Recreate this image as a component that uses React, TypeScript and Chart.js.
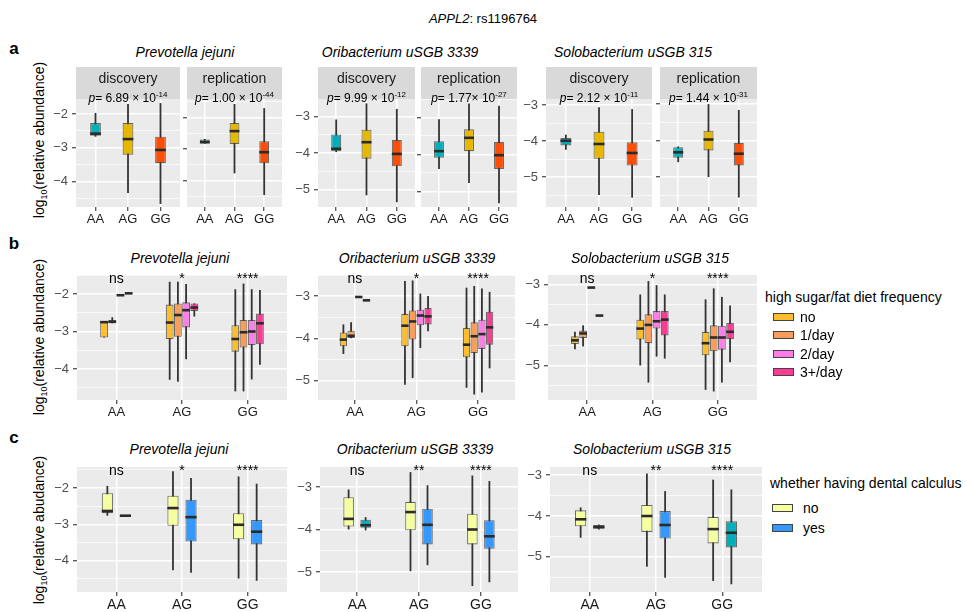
import React, { useEffect, useRef } from "react";
import { Chart, registerables } from "chart.js";
Chart.register(...registerables);

const FONT = '"Liberation Sans", Arial, Helvetica, sans-serif';

// ---------- data ----------
const genotypes = ["AA", "AG", "GG"];
// five-number summaries: [min, q1, median, q3, max] per genotype
const aPrevDisc = [[-2.67, -2.64, -2.58, -2.27, -1.97], [-4.33, -3.2, -2.74, -2.27, -1.71], [-4.65, -3.45, -3.06, -2.67, -1.68]];
const aPrevRepl = [[-2.83, -2.82, -2.78, -2.7, -2.68], [-3.77, -2.84, -2.43, -2.17, -1.57], [-4.46, -3.45, -3.1, -2.75, -1.7]];
const aOribDisc = [[-3.97, -3.95, -3.88, -3.49, -3.08], [-5.15, -4.15, -3.7, -3.36, -2.64], [-5.34, -4.36, -4.02, -3.64, -2.79]];
const aOribRepl = [[-4.39, -4.09, -3.91, -3.64, -3.05], [-4.77, -3.91, -3.55, -3.32, -2.62], [-5.32, -4.39, -4.02, -3.66, -2.68]];
const aSoloDisc = [[-4.24, -4.12, -3.99, -3.91, -3.82], [-5.5, -4.49, -4.08, -3.74, -3.06], [-5.57, -4.68, -4.33, -4.03, -3.11]];
const aSoloRepl = [[-4.59, -4.47, -4.32, -4.18, -4.16], [-5.0, -4.27, -3.97, -3.73, -3.0], [-5.56, -4.68, -4.36, -4.06, -3.16]];

const dietLevels = ["no", "1/day", "2/day", "3+/day"];
const bPrevNo = [[-3.16, -3.16, -2.75, -2.72, -2.72], [-4.29, -3.2, -2.76, -2.28, -1.67], [-4.6, -3.54, -3.2, -2.83, -1.87]];
const bPrev1 = [[-2.78, -2.77, -2.74, -2.69, -2.62], [-4.34, -3.14, -2.56, -2.25, -1.67], [-4.6, -3.43, -3.02, -2.69, -1.72]];
const bPrev2 = [[-2.03, -2.03, -2.03, -2.03, -2.03], [-3.74, -2.89, -2.43, -2.22, -1.73], [-4.28, -3.36, -3.0, -2.69, -1.87]];
const bPrev3 = [[-1.98, -1.98, -1.98, -1.98, -1.98], [-2.6, -2.45, -2.36, -2.25, -2.25], [-3.89, -3.34, -2.78, -2.52, -1.89]];
const bOribNo = [[-4.37, -4.19, -4.03, -3.86, -3.67], [-5.1, -4.19, -3.7, -3.42, -2.64], [-5.17, -4.45, -4.15, -3.75, -2.8]];
const bOrib1 = [[-4.0, -3.99, -3.94, -3.82, -3.62], [-4.94, -4.03, -3.6, -3.34, -2.63], [-5.33, -4.35, -3.95, -3.62, -2.76]];
const bOrib2 = [[-3.02, -3.02, -3.02, -3.02, -3.02], [-4.23, -3.69, -3.46, -3.32, -2.94], [-5.28, -4.25, -3.9, -3.56, -2.82]];
const bOrib3 = [[-3.1, -3.1, -3.1, -3.1, -3.1], [-3.83, -3.67, -3.48, -3.28, -3.0], [-4.71, -4.15, -3.74, -3.37, -2.9]];
const bSoloNo = [[-4.6, -4.47, -4.38, -4.28, -4.17], [-5.0, -4.36, -4.09, -3.87, -3.25], [-5.6, -4.75, -4.45, -4.17, -3.37]];
const bSolo1 = [[-4.53, -4.32, -4.21, -4.14, -4.01], [-5.42, -4.45, -4.0, -3.74, -2.92], [-5.64, -4.65, -4.31, -4.01, -3.1]];
const bSolo2 = [[-3.08, -3.08, -3.08, -3.08, -3.08], [-4.78, -4.09, -3.91, -3.66, -3.02], [-5.42, -4.61, -4.31, -4.02, -3.31]];
const bSolo3 = [[-3.77, -3.77, -3.77, -3.77, -3.77], [-4.83, -4.26, -3.87, -3.66, -3.25], [-4.92, -4.35, -4.17, -3.95, -3.52]];

const calcLevels = ["no", "yes"];
const cPrevNo = [[-2.76, -2.69, -2.63, -2.14, -1.94], [-4.26, -3.04, -2.55, -2.21, -1.54], [-4.49, -3.41, -3.01, -2.69, -1.68]];
const cPrevYes = [[-2.76, -2.76, -2.76, -2.76, -2.76], [-4.33, -3.47, -2.8, -2.32, -1.72], [-4.55, -3.55, -3.2, -2.88, -1.88]];
const cOribNo = [[-4.0, -3.93, -3.75, -3.24, -3.06], [-4.98, -4.02, -3.59, -3.35, -2.65], [-5.33, -4.35, -4.0, -3.63, -2.73]];
const cOribYes = [[-4.02, -3.96, -3.9, -3.77, -3.71], [-4.84, -4.35, -3.89, -3.51, -2.96], [-5.24, -4.45, -4.16, -3.78, -2.86]];
const cSoloNo = [[-4.53, -4.25, -4.08, -3.86, -3.79], [-5.24, -4.39, -4.0, -3.73, -2.96], [-5.59, -4.67, -4.32, -4.02, -3.11]];
const cSoloYes = [[-4.33, -4.31, -4.27, -4.22, -4.21], [-5.51, -4.55, -4.22, -3.88, -3.39], [-5.67, -4.77, -4.41, -4.13, -3.35]];

const sigPrev = ["ns", "*", "****"];
const sigOribB = ["ns", "*", "****"];
const sigSoloB = ["ns", "*", "****"];
const sigOribC = ["ns", "**", "****"];
const sigSoloC = ["ns", "**", "****"];

// ---------- colours ----------
const TEAL = "#00AFBB";
const genoColors = [TEAL, "#E7B800", "#FC4E07"];
const dietColors = ["#FDBE2E", "#F99D5A", "#FD7EE7", "#F93D94"];
const calcNo = "#F6FF9F";
const calcYes = "#3399FF";

// ---------- plugins ----------
const bgPlugin = {
  id: "panelBg",
  beforeDraw(chart: any) {
    const { ctx, chartArea } = chart;
    ctx.save();
    ctx.fillStyle = "#EBEBEB";
    ctx.fillRect(chartArea.left, chartArea.top, chartArea.right - chartArea.left, chartArea.bottom - chartArea.top);
    ctx.restore();
  },
};

const boxPlugin = {
  id: "boxParts",
  beforeDatasetsDraw(chart: any) {
    const { ctx } = chart;
    const y = chart.scales.y;
    ctx.save();
    ctx.strokeStyle = "#333333";
    ctx.lineWidth = 1.8;
    chart.data.datasets.forEach((ds: any, di: number) => {
      const meta = chart.getDatasetMeta(di);
      meta.data.forEach((el: any, i: number) => {
        const s = ds.stats[i];
        ctx.beginPath();
        ctx.moveTo(el.x, y.getPixelForValue(s[4]));
        ctx.lineTo(el.x, y.getPixelForValue(s[0]));
        ctx.stroke();
      });
    });
    ctx.restore();
  },
  afterDatasetsDraw(chart: any) {
    const { ctx } = chart;
    const y = chart.scales.y;
    ctx.save();
    ctx.strokeStyle = "#2B2B2B";
    ctx.lineWidth = 2.6;
    chart.data.datasets.forEach((ds: any, di: number) => {
      const meta = chart.getDatasetMeta(di);
      meta.data.forEach((el: any, i: number) => {
        const s = ds.stats[i];
        const py = y.getPixelForValue(s[2]);
        ctx.beginPath();
        ctx.moveTo(el.x - el.width / 2, py);
        ctx.lineTo(el.x + el.width / 2, py);
        ctx.stroke();
      });
    });
    const sig = chart.options.plugins.sigLabels?.labels;
    if (sig) {
      ctx.fillStyle = "#000";
      ctx.font = `14px ${FONT}`;
      ctx.textAlign = "center";
      ctx.textBaseline = "alphabetic";
      sig.forEach((t: string, i: number) => {
        ctx.fillText(t, chart.scales.x.getPixelForValue(i), chart.chartArea.top + 8);
      });
    }
    ctx.restore();
  },
};

type Series = { stats: number[][]; colors: string | string[] };
type PanelProps = {
  left: number; top: number; width: number; height: number;
  yAxisW: number; xAxisH: number; yMin: number; yMax: number;
  labelY: boolean; xFont: number; series: Series[]; cp: number; bp: number; sig?: string[];
};

function Panel(p: PanelProps) {
  const ref = useRef<HTMLCanvasElement>(null);
  const PAD = 12;
  const cw = p.width + p.yAxisW + 2;
  const ch = p.height + p.xAxisH + PAD;
  useEffect(() => {
    const ticksY: number[] = [];
    for (let v = Math.ceil(p.yMin * 2) / 2; v <= p.yMax + 1e-9; v += 0.5) ticksY.push(Math.round(v * 2) / 2);
    const isMajor = (v: any) => typeof v === "number" && Math.abs(v - Math.round(v)) < 1e-9;
    const chart = new Chart(ref.current as HTMLCanvasElement, {
      type: "bar",
      data: {
        datasets: p.series.map((s) => ({
          data: s.stats.map((st, i) => ({ x: i, y: [st[1], st[3]] })),
          stats: s.stats,
          backgroundColor: s.colors,
          borderColor: "rgba(60,60,60,0.75)",
          borderWidth: 1.1,
          borderSkipped: false,
          categoryPercentage: p.cp,
          barPercentage: p.bp,
        })) as any,
      },
      options: {
        animation: false,
        responsive: false,
        devicePixelRatio: 1,
        layout: { padding: { top: PAD, left: 0, right: 2, bottom: 0 }, autoPadding: false } as any,
        plugins: { legend: { display: false }, tooltip: { enabled: false }, sigLabels: { labels: p.sig } } as any,
        scales: {
          x: {
            type: "linear", min: -0.6, max: 2.6, offset: false,
            afterBuildTicks: (s: any) => { s.ticks = [0, 1, 2].map((v) => ({ value: v })); },
            afterFit: (s: any) => { s.height = p.xAxisH; },
            ticks: { callback: (v: any) => genotypes[v], color: "#1A1A1A", font: { size: p.xFont, family: FONT }, padding: 1, maxRotation: 0, autoSkip: false },
            grid: { offset: false, color: "#FFFFFF", lineWidth: 1.5, tickColor: "#333333", tickLength: 4, tickWidth: 1.1 },
            border: { display: false },
          },
          y: {
            type: "linear", min: p.yMin, max: p.yMax,
            afterBuildTicks: (s: any) => { s.ticks = ticksY.map((v) => ({ value: v })); },
            afterFit: (s: any) => { s.width = p.yAxisW; },
            ticks: {
              callback: (v: any) => (p.labelY && isMajor(v) ? "\u2212" + Math.abs(Math.round(v)) : ""),
              color: "#4D4D4D", font: { size: 13, family: FONT }, padding: 4, autoSkip: false,
            },
            grid: {
              color: "#FFFFFF",
              lineWidth: (c: any) => (isMajor(c.tick?.value) ? 1.5 : 0.7),
              tickColor: (c: any) => (isMajor(c.tick?.value) ? "#333333" : "rgba(0,0,0,0)"),
              tickLength: 4, tickWidth: 1.1,
            },
            border: { display: false },
          },
        } as any,
      },
      plugins: [bgPlugin, boxPlugin],
    });
    return () => chart.destroy();
  }, []);
  return (
    <canvas ref={ref} width={cw} height={ch}
      style={{ position: "absolute", left: p.left - p.yAxisW, top: p.top - PAD, width: cw, height: ch }} />
  );
}

function Txt(props: { x: number; y: number; size?: number; align?: "center" | "left"; bold?: boolean; italic?: boolean; children: any }) {
  const { x, y, size = 14, align = "center", bold, italic } = props;
  return (
    <div style={{
      position: "absolute", left: x, top: y, whiteSpace: "nowrap", fontSize: size, lineHeight: 1,
      fontWeight: bold ? "bold" : "normal", fontStyle: italic ? "italic" : "normal",
      transform: align === "center" ? "translate(-50%,-50%)" : "translate(0,-50%)",
    }}>{props.children}</div>
  );
}

function YTitle(props: { y: number; word: string }) {
  return (
    <div style={{
      position: "absolute", left: 40, top: props.y, whiteSpace: "nowrap", fontSize: 14, lineHeight: 1,
      transform: "translate(-50%,-50%) rotate(-90deg)", color: "#000",
    }}>
      log<sub style={{ fontSize: 9, verticalAlign: "-3px" }}>10</sub>({props.word})
    </div>
  );
}

function Strip(props: { left: number; width: number; label: string; pv: string; exp: string }) {
  return (
    <div style={{ position: "absolute", left: props.left, top: 67, width: props.width, height: 32, background: "#D9D9D9" }}>
      <div style={{ position: "absolute", left: 0, width: "100%", top: 3, textAlign: "center", fontSize: 14, lineHeight: "16px", color: "#1A1A1A" }}>{props.label}</div>
      <div style={{ position: "absolute", left: 0, width: "100%", top: 21, textAlign: "center", fontSize: 12, lineHeight: "14px", color: "#000", whiteSpace: "nowrap" }}>
        <i>p</i>= {props.pv}<sup style={{ fontSize: 8, verticalAlign: "5px" }}>{props.exp}</sup>
      </div>
    </div>
  );
}

function LegendKey(props: { x: number; y: number; color: string; label: string; tx: number }) {
  return (
    <>
      <div style={{ position: "absolute", left: props.x, top: props.y - 4, width: 19, height: 6, background: props.color, border: "1px solid #444" }} />
      <Txt x={props.tx} y={props.y} align="left">{props.label}</Txt>
    </>
  );
}

export default function App() {
  const rowA = { top: 99, height: 108, xAxisH: 22, xFont: 13, cp: 1, bp: 0.33 };
  const rowB = { top: 275, height: 125, xAxisH: 24, xFont: 13, cp: 0.5, bp: 0.95 };
  const rowC = { top: 467, height: 125, xAxisH: 26, xFont: 14, cp: 0.55, bp: 0.62 };
  const geno = (s: number[][]) => [{ stats: s, colors: genoColors }];
  const diet = (a: number[][], b: number[][], c: number[][], d: number[][]) =>
    [a, b, c, d].map((s, i) => ({ stats: s, colors: dietColors[i] }));
  return (
    <div style={{ position: "absolute", left: 0, top: 0, width: 967, height: 612, background: "#fff", fontFamily: FONT, color: "#000", overflow: "hidden" }}>
      <Txt x={483} y={18} size={13}><i>APPL2</i>: rs1196764</Txt>

      {/* row a */}
      <Txt x={14} y={48} size={17} bold>a</Txt>
      <YTitle y={140} word="relative abundance" />
      <Txt x={185} y={52} italic>Prevotella jejuni</Txt>
      <Txt x={400} y={52} italic>Oribacterium uSGB 3339</Txt>
      <Txt x={633} y={52} italic>Solobacterium uSGB 315</Txt>
      <Panel {...rowA} left={76} width={104} yAxisW={30} yMin={-4.74} yMax={-1.56} labelY series={geno(aPrevDisc)} />
      <Panel {...rowA} left={187} width={95} yAxisW={5} yMin={-4.84} yMax={-1.41} labelY={false} series={geno(aPrevRepl)} />
      <Panel {...rowA} left={318} width={97} yAxisW={30} yMin={-5.47} yMax={-2.52} labelY series={geno(aOribDisc)} />
      <Panel {...rowA} left={421} width={96} yAxisW={5} yMin={-5.42} yMax={-2.5} labelY={false} series={geno(aOribRepl)} />
      <Panel {...rowA} left={546} width={106} yAxisW={30} yMin={-5.83} yMax={-2.83} labelY series={geno(aSoloDisc)} />
      <Panel {...rowA} left={660} width={97} yAxisW={5} yMin={-5.82} yMax={-2.86} labelY={false} series={geno(aSoloRepl)} />
      <Strip left={76} width={104} label="discovery" pv="6.89 × 10" exp="-14" />
      <Strip left={187} width={95} label="replication" pv="1.00 × 10" exp="-44" />
      <Strip left={318} width={97} label="discovery" pv="9.99 × 10" exp="-12" />
      <Strip left={421} width={96} label="replication" pv="1.77× 10" exp="-27" />
      <Strip left={546} width={106} label="discovery" pv="2.12 × 10" exp="-11" />
      <Strip left={660} width={97} label="replication" pv="1.44 × 10" exp="-31" />

      {/* row b */}
      <Txt x={14} y={243} size={17} bold>b</Txt>
      <YTitle y={337} word="relative abundance" />
      <Txt x={180} y={258} italic>Prevotella jejuni</Txt>
      <Txt x={417} y={258} italic>Oribacterium uSGB 3339</Txt>
      <Txt x={650} y={258} italic>Solobacterium uSGB 315</Txt>
      <Panel {...rowB} left={77} width={210} yAxisW={30} yMin={-4.83} yMax={-1.49} labelY sig={sigPrev} series={diet(bPrevNo, bPrev1, bPrev2, bPrev3)} />
      <Panel {...rowB} left={318} width={197} yAxisW={30} yMin={-5.46} yMax={-2.5} labelY sig={sigOribB} series={diet(bOribNo, bOrib1, bOrib2, bOrib3)} />
      <Panel {...rowB} left={548} width={209} yAxisW={30} yMin={-5.85} yMax={-2.77} labelY sig={sigSoloB} series={diet(bSoloNo, bSolo1, bSolo2, bSolo3)} />
      <Txt x={765} y={297} align="left">high sugar/fat diet frequency</Txt>
      {dietLevels.map((l, i) => (
        <LegendKey key={l} x={773} y={317 + i * 18.3} color={dietColors[i]} label={l} tx={800} />
      ))}

      {/* row c */}
      <Txt x={14} y={437} size={17} bold>c</Txt>
      <YTitle y={530} word="relative abudance" />
      <Txt x={179} y={449} italic>Prevotella jejuni</Txt>
      <Txt x={415} y={449} italic>Oribacterium uSGB 3339</Txt>
      <Txt x={652} y={449} italic>Solobacterium uSGB 315</Txt>
      <Panel {...rowC} left={77} width={210} yAxisW={30} yMin={-4.86} yMax={-1.42} labelY sig={sigPrev}
        series={[{ stats: cPrevNo, colors: calcNo }, { stats: cPrevYes, colors: calcYes }]} />
      <Panel {...rowC} left={320} width={198} yAxisW={30} yMin={-5.47} yMax={-2.53} labelY sig={sigOribC}
        series={[{ stats: cOribNo, colors: calcNo }, { stats: cOribYes, colors: [TEAL, calcYes, calcYes] }]} />
      <Panel {...rowC} left={550} width={212} yAxisW={30} yMin={-5.86} yMax={-2.8} labelY sig={sigSoloC}
        series={[{ stats: cSoloNo, colors: calcNo }, { stats: cSoloYes, colors: [calcYes, calcYes, TEAL] }]} />
      <Txt x={770} y={483} align="left">whether having dental calculus</Txt>
      {calcLevels.map((l, i) => (
        <LegendKey key={l} x={772} y={508 + i * 20} color={i === 0 ? calcNo : calcYes} label={l} tx={803} />
      ))}
    </div>
  );
}
